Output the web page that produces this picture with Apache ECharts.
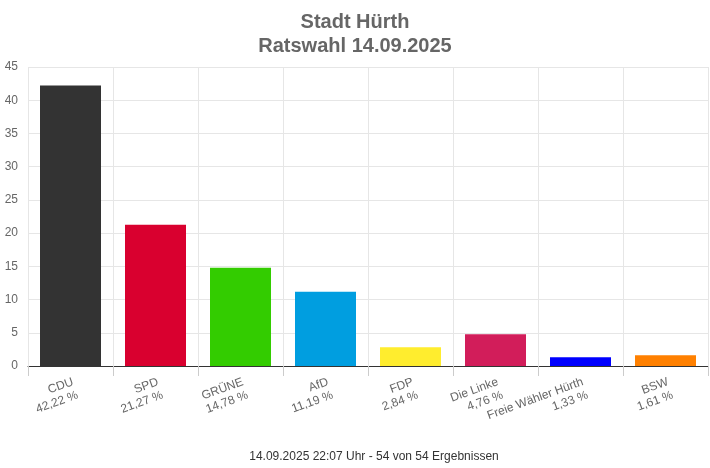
<!DOCTYPE html>
<html><head><meta charset="utf-8">
<script src="https://cdn.jsdelivr.net/npm/echarts@6/dist/echarts.min.js"></script>
<style>html,body{margin:0;padding:0;background:#fff}#c{width:710px;height:468px}</style>
</head><body><div id="c"></div>
<script>
const categories = ["CDU","SPD","GRÜNE","AfD","FDP","Die Linke","Freie Wähler Hürth","BSW"];
const values = [42.22,21.27,14.78,11.19,2.84,4.76,1.33,1.61];
const colors = ["#333333","#d9002f","#33cc00","#009ee0","#ffed2e","#d21d5a","#0000ff","#ff8000"];
const yTicks = [0,5,10,15,20,25,30,35,40,45];
const titleText = "Stadt Hürth\nRatswahl 14.09.2025";
const footerText = "14.09.2025 22:07 Uhr - 54 von 54 Ergebnissen";

const chart = echarts.init(document.getElementById('c'));
const fmt = v => v.toFixed(2).replace('.', ',') + ' %';
chart.setOption({
  animation:false,
  title:[{text:titleText,left:'center',top:5,textStyle:{fontFamily:'Liberation Sans, Arial',fontWeight:'bold',fontSize:20,color:'#666666',lineHeight:24}},
         {text:footerText,left:369,textAlign:'center',top:446,textStyle:{fontFamily:'Liberation Sans, Arial',fontWeight:'normal',fontSize:12,color:'#333333'}}],
  grid:{left:28,right:2,top:67,bottom:102,containLabel:false},
  xAxis:{type:'category',data:categories,boundaryGap:true,
    axisLine:{show:true,lineStyle:{color:'#333333',width:1}},
    axisTick:{show:true,length:10,lineStyle:{color:'#cccccc'}},
    splitLine:{show:true,lineStyle:{color:'#e6e6e6'}},
    axisLabel:{interval:0,rotate:20,margin:9,color:'#666666',fontFamily:'Liberation Sans, Arial',fontSize:12,lineHeight:14,align:'right',verticalAlign:'top',
      formatter:(name,idx)=>name+'\n'+fmt(values[idx])}},
  yAxis:{type:'value',min:yTicks[0],max:yTicks[yTicks.length-1],interval:5,
    axisLine:{show:false},axisTick:{show:false},
    splitLine:{show:true,lineStyle:{color:'#e6e6e6'}},
    axisLabel:{color:'#666666',fontFamily:'Liberation Sans, Arial',fontSize:12,margin:10,verticalAlign:'middle',padding:[3,0,0,0]}},
  series:[{type:'bar',barWidth:61,data:values.map((v,i)=>({value:v,itemStyle:{color:colors[i]}}))}]
});
</script></body></html>
